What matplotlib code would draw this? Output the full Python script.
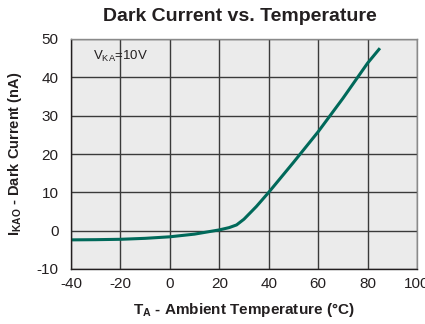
import numpy as np
import matplotlib.pyplot as plt

# values
temp = [-40, -30, -20, -10, 0, 10, 20, 24, 27, 30, 35, 40, 50, 60, 70, 80, 85]
dark_current = [-2.4, -2.35, -2.25, -2.0, -1.6, -0.9, 0.2, 0.8, 1.5, 3.0, 6.3, 10.0, 17.8, 25.8, 34.5, 43.7, 47.6]

xticks = [-40, -20, 0, 20, 40, 60, 80, 100]
yticks = [-10, 0, 10, 20, 30, 40, 50]

plt.rcParams['font.family'] = ['Liberation Sans', 'DejaVu Sans']
plt.rcParams['mathtext.fontset'] = 'custom'
plt.rcParams['mathtext.rm'] = 'Liberation Sans'
plt.rcParams['mathtext.bf'] = 'Liberation Sans:bold'
plt.rcParams['axes.unicode_minus'] = False

fig = plt.figure(figsize=(4.25, 3.24), dpi=100)
ax = fig.add_axes([71 / 425, 1 - 269 / 324, 346 / 425, 230 / 324])
ax.set_facecolor('#ebebeb')

ax.plot(temp, dark_current, color='#00695a', linewidth=2.2, solid_capstyle='butt')

ax.set_xlim(-40, 100)
ax.set_ylim(-10, 50)
ax.set_xticks(xticks)
ax.set_yticks(yticks)
ax.grid(True, color='#3a3a3a', linewidth=1.0)
ax.set_axisbelow(True)
ax.tick_params(length=0, labelsize=11, colors='#231f20')
ax.tick_params(axis='x', pad=6)
ax.tick_params(axis='y', pad=9)
for s in ['left', 'bottom']:
    ax.spines[s].set_color('#231f20')
    ax.spines[s].set_linewidth(1.0)
for s in ['top', 'right']:
    ax.spines[s].set_color('#8a8a8a')
    ax.spines[s].set_linewidth(1.0)

ax.text(-20, 45.5, r'V$_{\rm KA}$=10V', fontsize=9.5, color='#231f20', ha='center', va='center')

fig.text(0.565, 0.948, 'Dark Current vs. Temperature', fontsize=14, fontweight='bold',
         color='#231f20', ha='center', va='center')
ax.set_xlabel(r'T$_{\mathbf{A}}$ - Ambient Temperature (°C)', fontsize=11, fontweight='bold',
              color='#231f20', labelpad=7)
ax.set_ylabel(r'I$_{\mathbf{KAO}}$ - Dark Current (nA)', fontsize=10.5, fontweight='bold',
              color='#231f20', labelpad=9)

plt.savefig('out.png', dpi=100)
plt.close()
